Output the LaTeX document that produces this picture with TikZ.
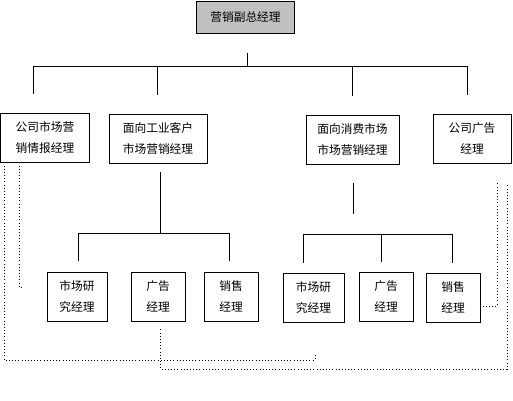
\documentclass[tikz,border=0pt]{standalone}
\usepackage{fontspec}
\setmainfont{Noto Sans CJK SC}
\usetikzlibrary{calc}
\definecolor{headgray}{RGB}{192,192,192}
\def\px{0.03cm}
\def\postnode{\node[draw=black,line width=0.7pt,align=center,minimum height=49*\px,font=\fontsize{10pt}{17.9pt}\selectfont]}
\def\drawtree{\draw[line width=0.7pt]}
\def\drawlink{\draw[dotted,line width=0.7pt]}

\begin{document}
\begin{tikzpicture}[x=0.03cm,y=-0.03cm,inner sep=0pt]
\useasboundingbox (0,0) rectangle (513,401);
\postnode[fill=headgray,minimum width=98*\px,minimum height=32*\px] (vp) at (245.5,17) {营销副总经理};
\postnode[minimum width=89*\px] (b1) at (45,137.5) {公司市场营\\销情报经理};
\postnode[minimum width=98*\px] (b2) at (158,138.5) {面向工业客户\\市场营销经理};
\postnode[minimum width=93*\px] (b3) at (352.5,139.5) {面向消费市场\\市场营销经理};
\postnode[minimum width=78*\px] (b4) at (472,138.5) {公司广告\\经理};
\postnode[minimum width=60*\px] (L1) at (77,296.5) {市场研\\究经理};
\postnode[minimum width=54*\px] (L2) at (158,296.5) {广告\\经理};
\postnode[minimum width=54*\px] (L3) at (231,296.5) {销售\\经理};
\postnode[minimum width=61*\px] (R1) at (313.5,297.5) {市场研\\究经理};
\postnode[minimum width=54*\px] (R2) at (386,296.5) {广告\\经理};
\postnode[minimum width=54*\px] (R3) at (453,297.5) {销售\\经理};
\coordinate (bus) at (247,66);
\coordinate (d1) at (33,66);
\coordinate (d2) at (157,66);
\coordinate (d3) at (352,66);
\coordinate (d4) at (467,66);
\drawtree[shorten <=0.6cm] (vp.south -| bus) -- (bus);
\drawtree (d1) -- (d4);
\foreach \d/\b in {d1/b1,d2/b2,d3/b3,d4/b4}
  \drawtree[shorten >=0.57cm] (\d) -- (\d |- \b.north);
\coordinate (lb) at (160,233);
\coordinate (l1) at (78,233);
\coordinate (l3) at (229,233);
\drawtree[shorten <=0.27cm] (b2.south -| lb) -- (lb);
\drawtree (l1) -- (l3);
\foreach \d/\b in {l1/L1,l3/L3}
  \drawtree[shorten >=0.33cm] (\d) -- (\d |- \b.north);
\coordinate (rb) at (353,234);
\coordinate (r1) at (303,234);
\coordinate (r2) at (381,234);
\coordinate (r3) at (452,234);
\drawtree[shorten <=0.57cm,shorten >=0.6cm] (b3.south -| rb) -- (rb);
\drawtree (r1) -- (r3);
\foreach \d/\b in {r1/R1,r2/R2,r3/R3}
  \drawtree[shorten >=0.3cm] (\d) -- (\d |- \b.north);
\coordinate (a1) at (4,360);
\coordinate (a2) at (315,360);
\coordinate (a3) at (315,353);
\drawlink (b1.south -| a1) -- (a1) -- (a2) -- (a3);
\coordinate (e1) at (19,287);
\coordinate (e2) at (24,287);
\drawlink (b1.south -| e1) -- (e1) -- (e2);
\coordinate (c0) at (160,369);
\coordinate (c1) at (507,369);
\drawlink[shorten <=0.24cm,shorten >=0.6cm] (L2.south -| c0) -- (c0) -- (c1) -- (c1 |- b4.south);
\coordinate (f1) at (497,306);
\drawlink[shorten <=0.6cm] (b4.south -| f1) -- (f1) -- (f1 -| R3.east);
\end{tikzpicture}
\end{document}
